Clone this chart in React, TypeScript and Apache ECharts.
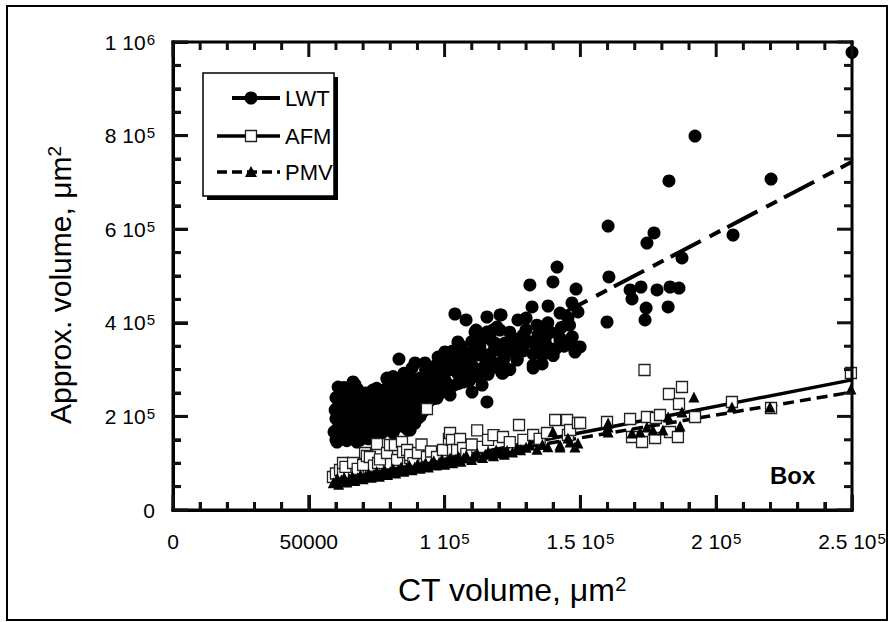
import React, { useEffect, useRef } from "react";
import * as echarts from "echarts";

const FONT = "'Liberation Sans', Arial, Helvetica, sans-serif";
const TICK = "#111111";

// Tick labels (rich text: {sup|..} = superscript)
const xTickLabels = ["0", "50000", "1 10{sup|5}", "1.5 10{sup|5}", "2 10{sup|5}", "2.5 10{sup|5}"];
const yTickLabels = ["0", "2 10{sup|5}", "4 10{sup|5}", "6 10{sup|5}", "8 10{sup|5}", "1 10{sup|6}"];

// Tick positions (data values) on all four sides of the box
const xMajorTicks = [0, 50000, 100000, 150000, 200000, 250000];
const xMinorTicks = [10000, 20000, 30000, 40000, 60000, 70000, 80000, 90000, 110000, 120000, 130000, 140000,
  160000, 170000, 180000, 190000, 210000, 220000, 230000, 240000];
const yMajorTicks = [0, 200000, 400000, 600000, 800000, 1000000];
const yMinorTicks = [50000, 100000, 150000, 250000, 300000, 350000, 450000, 500000, 550000, 650000, 700000,
  750000, 850000, 900000, 950000];

// LWT (filled circles)
const lwtPoints: [number, number][] = [
  [60000, 150000], [60000, 170000], [60000, 195000], [60000, 215000], [60000, 240000], [60800, 262800],
  [59700, 213700], [60400, 145300], [59300, 166700], [60400, 207300],
  [61000, 178000], [61000, 225000], [61500, 248000], [63000, 155000], [63000, 192000], [63000, 212000],
  [63000, 238000], [63000, 262000], [65000, 168000], [65000, 182000], [65000, 205000], [65000, 228000],
  [65000, 250000], [67000, 160000], [67000, 185000], [67000, 222000], [67000, 248000], [67000, 268000],
  [69000, 150000], [69000, 175000], [69000, 195000], [69000, 220000], [69000, 245000], [71000, 165000],
  [71000, 198000], [71000, 222000], [71000, 250000], [73000, 160000], [73000, 188000], [73000, 212000],
  [73000, 238000], [75000, 175000], [75000, 205000], [75000, 230000], [75000, 260000], [77000, 165000],
  [77000, 195000], [77000, 220000], [77000, 255000], [79000, 180000], [79000, 210000], [79000, 235000],
  [79000, 262000], [81000, 165000], [81000, 198000], [81000, 228000], [81000, 255000], [81000, 285000],
  [83000, 182000], [83000, 215000], [83000, 245000], [83000, 270000], [85000, 178000], [85000, 205000],
  [85000, 232000], [85000, 262000], [85000, 292000], [87000, 195000], [87000, 222000], [87000, 250000],
  [87000, 275000], [89000, 185000], [89000, 212000], [89000, 240000], [89000, 268000], [91000, 200000],
  [91000, 228000], [91000, 255000], [91000, 282000], [93000, 220000], [93000, 248000], [93000, 275000],
  [93000, 300000], [95000, 245000], [95000, 265000], [95000, 290000], [97000, 255000], [97000, 285000],
  [97000, 310000], [99000, 262000], [99000, 290000], [99000, 320000], [101000, 270000], [101000, 310000],
  [103000, 265000], [103000, 300000], [103000, 340000], [105000, 270000], [105000, 320000], [107000, 285000],
  [107000, 330000], [109000, 275000], [109000, 315000], [111000, 295000], [111000, 345000], [113000, 300000],
  [113000, 350000], [116000, 290000], [117000, 320000], [119000, 305000], [119000, 355000], [122000, 325000],
  [123000, 345000], [124000, 300000], [126000, 365000], [127000, 335000], [129000, 340000], [130000, 385000],
  [131000, 360000], [133000, 355000], [134000, 395000], [136000, 330000], [137000, 365000], [139000, 380000],
  [141000, 345000], [143000, 390000], [144000, 350000], [146000, 395000], [147000, 370000],
  [62000, 160000], [62000, 185000], [62000, 205000], [62000, 230000], [62000, 250000],
  [64000, 148000], [64000, 175000], [64000, 200000], [64000, 225000], [64000, 255000],
  [66000, 155000], [66000, 190000], [66000, 215000], [66000, 240000], [66300, 273500],
  [67700, 145300], [68000, 170000], [68000, 200000], [68000, 230000], [68000, 258000],
  [70000, 160000], [70000, 185000], [70000, 210000], [70000, 235000],
  [72000, 152000], [72000, 178000], [72000, 205000], [72000, 228000], [73600, 256400],
  [74000, 165000], [74000, 195000], [74000, 220000], [75100, 156000],
  [76000, 185000], [76000, 212000], [76000, 240000], [77300, 241500],
  [78000, 200000], [78000, 228000], [78800, 282000], [78800, 279900],
  [79900, 170900], [80000, 190000], [80000, 218000], [80000, 245000], [80000, 268000],
  [82000, 175000], [82000, 205000], [82000, 235000], [82500, 262800],
  [83200, 322600], [83600, 277800], [84000, 198000], [84000, 225000], [84000, 255000],
  [86000, 185000], [86000, 215000], [86000, 242000], [86500, 171000], [87300, 170900],
  [87300, 284200], [88000, 303400], [88000, 205000], [88000, 232000], [88000, 260000],
  [89100, 314100], [89800, 256400], [90000, 195000], [90000, 222000], [90000, 250000],
  [92000, 210000], [92000, 238000], [92000, 265000], [92800, 314100], [94000, 230000],
  [94600, 292700], [94000, 258000], [96000, 238000], [96000, 262000], [96000, 278000],
  [97200, 239300], [97600, 326900], [98000, 248000], [98000, 270000], [98000, 300000],
  [100000, 255000], [100000, 280000], [100100, 337600], [100900, 299100], [102000, 245700],
  [102000, 330000], [103800, 418800], [104600, 320500], [104900, 359000], [105000, 290000],
  [106000, 350000], [106800, 273500], [107900, 406000], [108000, 300000], [108300, 335500],
  [110000, 360000], [110100, 252100], [110500, 305600], [111200, 380300], [111600, 384600],
  [112000, 285000], [112300, 331200], [113800, 267100], [114000, 365000], [115000, 310000],
  [115600, 230800], [115600, 326900], [115600, 380300], [115600, 412400], [115600, 331200],
  [117800, 359000], [117800, 384600], [118000, 340000], [119300, 391000], [120400, 314100],
  [120400, 341900], [120400, 384600], [120400, 416700], [120800, 416700], [121100, 292700],
  [121500, 292700], [121500, 314100], [121500, 335500], [122200, 356800], [124000, 380000],
  [125000, 340000], [125900, 359000], [126700, 320500], [126700, 322600], [127000, 406000],
  [128000, 355000], [128900, 373900], [130000, 410000], [131400, 480800], [132200, 433800],
  [132600, 303400], [132600, 309800], [132600, 333300], [134400, 373900], [135000, 345000],
  [135100, 391000], [135900, 312000], [137700, 350400], [138000, 400000], [138100, 378200],
  [138100, 435900], [139900, 487200], [140000, 330000], [141400, 519200], [142500, 363200],
  [142500, 367500], [142500, 420900], [145400, 359000], [145400, 410300], [146900, 442300],
  [148000, 337600], [148000, 341900], [148400, 472200], [148800, 348300], [149100, 423100],
  [149900, 348300], [159800, 401700], [160200, 606800], [160500, 497900], [168300, 470100],
  [169000, 450900], [172300, 476500], [173800, 406000], [174200, 431600], [174500, 570500],
  [177100, 591900], [178200, 470100], [182300, 433800], [182600, 703000], [183000, 476500],
  [186300, 474300], [187400, 538500], [192200, 799000], [206200, 587600], [220200, 707000],
  [250000, 978000],
];

// AFM (open squares)
const afmPoints: [number, number][] = [
  [58900, 70500], [60000, 78000], [61500, 85500], [62600, 79100], [62600, 100400], [63500, 92000],
  [66300, 100400], [68000, 88000], [70000, 96200], [70700, 121800], [71400, 115400], [72500, 113200],
  [74000, 95000], [75100, 141000], [75500, 100400], [76200, 108000], [78800, 121800], [79900, 138900],
  [81700, 138900], [82500, 106800], [84300, 145300], [84700, 123900], [86200, 128200], [87300, 111100],
  [87300, 117500], [88500, 100000], [90200, 121800], [91500, 140000], [93500, 215800], [93500, 113200],
  [95000, 125000], [97200, 113200], [99400, 128200], [101600, 151700], [102000, 164500], [102700, 149600],
  [103100, 128200], [104600, 128200], [105700, 151700], [106800, 132500], [108000, 120000], [110000, 140000],
  [112000, 170000], [114000, 135000], [116000, 150000], [118000, 160000], [121500, 156000], [124000, 145000],
  [127400, 181600], [129000, 150000], [132600, 160300], [135000, 152000], [137700, 164500], [140700, 192300],
  [145100, 192300], [145400, 160300], [146200, 170900], [149100, 185900], [149900, 185900], [159800, 188000],
  [168300, 194400], [169000, 156000], [172700, 145300], [173600, 299100], [174500, 198700], [177500, 153800],
  [177800, 196600], [179300, 203000], [182600, 247900], [183000, 166700], [185900, 156000], [186300, 226500],
  [187400, 262800], [192200, 198700], [205800, 230800], [220200, 218000], [249600, 292700],
];

// PMV (filled triangles)
const pmvPoints: [number, number][] = [
  [59000, 58000], [60000, 62000], [60500, 68000], [61000, 55000], [62000, 64000], [63000, 70000],
  [64000, 60000], [65000, 66000], [66000, 72000], [67000, 63000], [68000, 69000], [69000, 75000],
  [70000, 67000], [71000, 73000], [72000, 78000], [73000, 70000], [74000, 76000], [75000, 82000],
  [76000, 72000], [77000, 79000], [78000, 85000], [79000, 76000], [80000, 82000], [81000, 88000],
  [82000, 79000], [83000, 86000], [84000, 92000], [85000, 83000], [86000, 89000], [87000, 95000],
  [88000, 86000], [89000, 92000], [90000, 98000], [91000, 89000], [92000, 95000], [93000, 101000],
  [94000, 92000], [95000, 99000], [96000, 105000], [97000, 96000], [98000, 102000], [99000, 108000],
  [100000, 98000], [101000, 105000], [102000, 111000], [103000, 101000], [104000, 108000], [105000, 114000],
  [106000, 104000], [107000, 111000], [108000, 117000], [110000, 108000], [111000, 115000], [112000, 121000],
  [114000, 112000], [115000, 119000], [116000, 124000], [118000, 116000], [119000, 128000], [120400, 121800],
  [122000, 119000], [123000, 127000], [125000, 124000], [126700, 132500], [128000, 129000], [130000, 134000],
  [131400, 138900], [134000, 130000], [136000, 140000], [138000, 135000], [139900, 168000], [142500, 134600],
  [142500, 138900], [145400, 153800], [146200, 145300], [148000, 134600], [149100, 143200], [160200, 185900],
  [160200, 166700], [160200, 177400], [169000, 164500], [172000, 166700], [174500, 177400], [176700, 170900],
  [180400, 170900], [182300, 198700], [186700, 179500], [187400, 209400], [191800, 241500], [205800, 220100],
  [219800, 220100], [249600, 258500],
];

// Regression lines (end points)
const lwtFit: [number, number][] = [[58000, 160000], [250000, 744000]];
const afmFit: [number, number][] = [[58000, 61000], [250000, 278000]];
const pmvFit: [number, number][] = [[58000, 64000], [250000, 252000]];

const legendItems = ["LWT", "AFM", "PMV"];

const X_MIN = 0, X_MAX = 250000, Y_MIN = 0, Y_MAX = 1000000;

export default function App() {
  const ref = useRef<HTMLDivElement>(null);

  useEffect(() => {
    if (!ref.current) return;
    const chart = echarts.init(ref.current, null, { renderer: "svg" });

    const lx = 217, lx2 = 280, cx = 251;
    const rows = [98, 136, 172];

    chart.setOption({
      animation: false,
      grid: { left: 173, top: 42, right: 42, bottom: 112 },
      xAxis: {
        type: "value", min: X_MIN, max: X_MAX, interval: 50000,
        axisLine: { show: true, lineStyle: { color: "#000", width: 3 } },
        axisTick: { show: true, inside: true, length: 15, lineStyle: { color: TICK, width: 3 } },
        minorTick: { show: true, splitNumber: 5, length: 8, lineStyle: { color: TICK, width: 3 } },
        splitLine: { show: false },
        axisLabel: {
          margin: 21, fontSize: 21, fontFamily: FONT, color: "#000",
          rich: { sup: { fontSize: 15, fontFamily: FONT, color: "#000", verticalAlign: "top", padding: [0, 0, 6, 1] } },
          formatter: (v: number) => xTickLabels[Math.round(v / 50000)] ?? "",
        },
      },
      yAxis: {
        type: "value", min: Y_MIN, max: Y_MAX, interval: 200000,
        axisLine: { show: true, lineStyle: { color: "#000", width: 3 } },
        axisTick: { show: true, inside: true, length: 15, lineStyle: { color: TICK, width: 3 } },
        minorTick: { show: true, splitNumber: 4, length: 8, lineStyle: { color: TICK, width: 3 } },
        splitLine: { show: false },
        axisLabel: {
          margin: 18, fontSize: 21, fontFamily: FONT, color: "#000",
          rich: { sup: { fontSize: 15, fontFamily: FONT, color: "#000", verticalAlign: "top", padding: [0, 0, 6, 1] } },
          formatter: (v: number) => yTickLabels[Math.round(v / 200000)] ?? "",
        },
      },
      series: [
        { name: "LWT fit", type: "line", data: lwtFit, symbol: "none", z: 1, lineStyle: { color: "#000", width: 4, type: [34, 10, 12, 8] } },
        { name: "AFM fit", type: "line", data: afmFit, symbol: "none", z: 1, lineStyle: { color: "#000", width: 3.5, type: "solid" } },
        { name: "PMV fit", type: "line", data: pmvFit, symbol: "none", z: 1, lineStyle: { color: "#000", width: 3.5, type: [11, 6] } },
        { name: "LWT", type: "scatter", data: lwtPoints, symbol: "circle", symbolSize: 13, z: 2, itemStyle: { color: "#000", opacity: 1 } },
        { name: "AFM", type: "scatter", data: afmPoints, symbol: "rect", symbolSize: 11, z: 3, itemStyle: { color: "#fff", borderColor: "#222", borderWidth: 1.3, opacity: 1 } },
        { name: "PMV", type: "scatter", data: pmvPoints, symbol: "triangle", symbolSize: 11, z: 4, itemStyle: { color: "#000", opacity: 1 } },
      ],
    });

    // Box frame + ticks on all four sides, placed through the chart's own scales
    const toPx = (x: number, y: number) => chart.convertToPixel({ gridIndex: 0 }, [x, y]) as number[];
    const tl = toPx(X_MIN, Y_MAX);
    const br = toPx(X_MAX, Y_MIN);
    const W = 3;
    const frameEls: any[] = [
      { type: "rect", shape: { x: tl[0] - 1.5, y: tl[1] - 1.5, width: br[0] - tl[0] + 3, height: 3 }, style: { fill: "#000" }, z: 60 },
      { type: "rect", shape: { x: br[0] - 1.5, y: tl[1] - 1.5, width: 3, height: br[1] - tl[1] + 3 }, style: { fill: "#000" }, z: 60 },
      { type: "rect", shape: { x: tl[0] - 1.5, y: br[1] - 1.5, width: br[0] - tl[0] + 3, height: 3 }, style: { fill: "#000" }, z: 60 },
      { type: "rect", shape: { x: tl[0] - 1.5, y: tl[1] - 1.5, width: 3, height: br[1] - tl[1] + 3 }, style: { fill: "#000" }, z: 60 },
    ];
    const addX = (v: number, len: number) => {
      const t = toPx(v, Y_MAX);
      const b = toPx(v, Y_MIN);
      frameEls.push({ type: "rect", shape: { x: t[0] - W / 2, y: t[1], width: W, height: len }, style: { fill: TICK }, z: 60 });
      frameEls.push({ type: "rect", shape: { x: b[0] - W / 2, y: b[1] - len, width: W, height: len }, style: { fill: TICK }, z: 60 });
    };
    const addY = (v: number, len: number) => {
      const r = toPx(X_MAX, v);
      const l = toPx(X_MIN, v);
      frameEls.push({ type: "rect", shape: { x: r[0] - len, y: r[1] - W / 2, width: len, height: W }, style: { fill: TICK }, z: 60 });
      frameEls.push({ type: "rect", shape: { x: l[0], y: l[1] - W / 2, width: len, height: W }, style: { fill: TICK }, z: 60 });
    };
    xMajorTicks.forEach((v) => addX(v, 15));
    xMinorTicks.forEach((v) => addX(v, 8));
    yMajorTicks.forEach((v) => addY(v, 15));
    yMinorTicks.forEach((v) => addY(v, 8));

    chart.setOption({
      graphic: [
        { type: "rect", shape: { x: 7, y: 6, width: 880, height: 614 }, style: { fill: "transparent", stroke: "#000", lineWidth: 2 } },
        ...frameEls,
        { type: "rect", shape: { x: 207, y: 77, width: 131, height: 123 }, style: { fill: "#000" }, z: 50 },
        { type: "rect", shape: { x: 203, y: 73, width: 131, height: 123 }, style: { fill: "#fff", stroke: "#000", lineWidth: 1.5 }, z: 51 },
        { type: "line", shape: { x1: 232, y1: rows[0], x2: 247, y2: rows[0] }, style: { stroke: "#000", lineWidth: 4 }, z: 52 },
        { type: "line", shape: { x1: 255, y1: rows[0], x2: lx2, y2: rows[0] }, style: { stroke: "#000", lineWidth: 4 }, z: 52 },
        { type: "circle", shape: { cx, cy: rows[0], r: 6.5 }, style: { fill: "#000" }, z: 53 },
        { type: "line", shape: { x1: lx, y1: rows[1], x2: lx2, y2: rows[1] }, style: { stroke: "#000", lineWidth: 3.5 }, z: 52 },
        { type: "rect", shape: { x: cx - 5.5, y: rows[1] - 5.5, width: 11, height: 11 }, style: { fill: "#fff", stroke: "#222", lineWidth: 1.3 }, z: 53 },
        { type: "line", shape: { x1: lx, y1: rows[2], x2: lx2, y2: rows[2] }, style: { stroke: "#000", lineWidth: 3.5, lineDash: [10, 5] }, z: 52 },
        { type: "polygon", shape: { points: [[cx, rows[2] - 6], [cx + 6, rows[2] + 5], [cx - 6, rows[2] + 5]] }, style: { fill: "#000" }, z: 53 },
        ...legendItems.map((t, i) => ({
          type: "text", x: 285, y: rows[i], z: 53,
          style: { text: t, fontSize: 22, fontFamily: FONT, fill: "#000", align: "left", verticalAlign: "middle" },
        })),
        {
          type: "text", x: 770, y: 475, z: 53,
          style: { text: "Box", fontSize: 24, fontWeight: "bold", fontFamily: FONT, fill: "#000", align: "left", verticalAlign: "middle" },
        },
        {
          type: "text", x: 512, y: 590, z: 53,
          style: {
            text: "CT volume, μm{sup|2}", fontSize: 32, fontFamily: FONT, fill: "#000", align: "center", verticalAlign: "middle",
            rich: { sup: { fontSize: 20, fontFamily: FONT, fill: "#000", verticalAlign: "top", padding: [0, 0, 10, 0] } },
          },
        },
        {
          type: "text", x: 60, y: 285, rotation: Math.PI / 2, z: 53,
          style: {
            text: "Approx. volume, μm{sup|2}", fontSize: 30, fontFamily: FONT, fill: "#000", align: "center", verticalAlign: "middle",
            rich: { sup: { fontSize: 19, fontFamily: FONT, fill: "#000", verticalAlign: "top", padding: [0, 0, 10, 0] } },
          },
        },
      ],
    });

    return () => chart.dispose();
  }, []);

  return (
    <div
      ref={ref}
      style={{ position: "absolute", left: 0, top: 0, width: 894, height: 622, background: "#fff" }}
    />
  );
}
